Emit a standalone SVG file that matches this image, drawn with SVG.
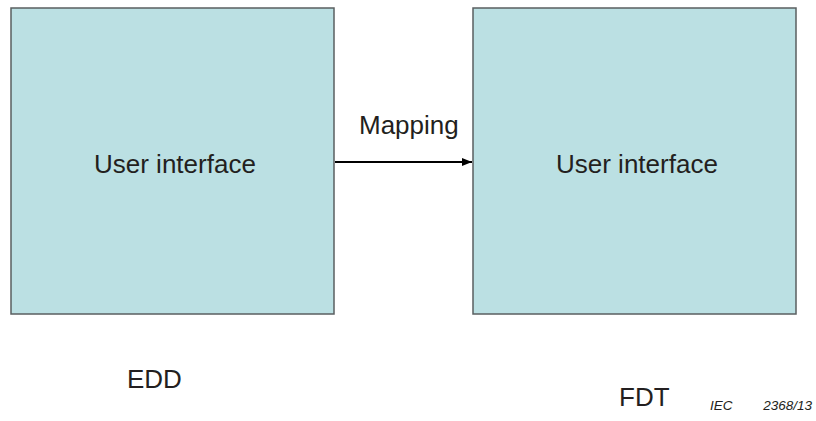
<svg xmlns="http://www.w3.org/2000/svg" width="816" height="421" viewBox="0 0 816 421">
<defs>
<style>
.box{fill:#bbe0e3;stroke:#5a5f60;stroke-width:1.5}
.lbl{font-family:"Liberation Sans",Arial,sans-serif;font-size:26px;fill:#231f20}
.note{font-family:"Liberation Sans",Arial,sans-serif;font-size:13.5px;font-style:italic;fill:#231f20}
.conn{stroke:#000;stroke-width:2;fill:none}
</style>
<marker id="arr" markerWidth="10" markerHeight="8" refX="10" refY="4" orient="auto" markerUnits="userSpaceOnUse">
<path d="M0,0 L10,4 L0,8 Z" fill="#000"/>
</marker>
</defs>
<rect width="816" height="421" fill="#fff"/>
<g id="edd-ui">
<rect class="box" x="11" y="8" width="323" height="306"/>
<text class="lbl" x="94" y="173">User interface</text>
</g>
<g id="fdt-ui">
<rect class="box" x="473" y="8" width="323" height="306"/>
<text class="lbl" x="556" y="173">User interface</text>
</g>
<g id="connectors">
<line class="conn" x1="335" y1="162" x2="472" y2="162" marker-end="url(#arr)"/>
<text class="lbl" x="359" y="134">Mapping</text>
</g>
<g id="edd-label">
<text class="lbl" x="127" y="388">EDD</text>
</g>
<g id="fdt-label">
<text class="lbl" x="619" y="406">FDT</text>
</g>
<g id="ref">
<text class="note" x="710" y="410">IEC</text>
<text class="note" x="812" y="410" text-anchor="end">2368/13</text>
</g>
</svg>
